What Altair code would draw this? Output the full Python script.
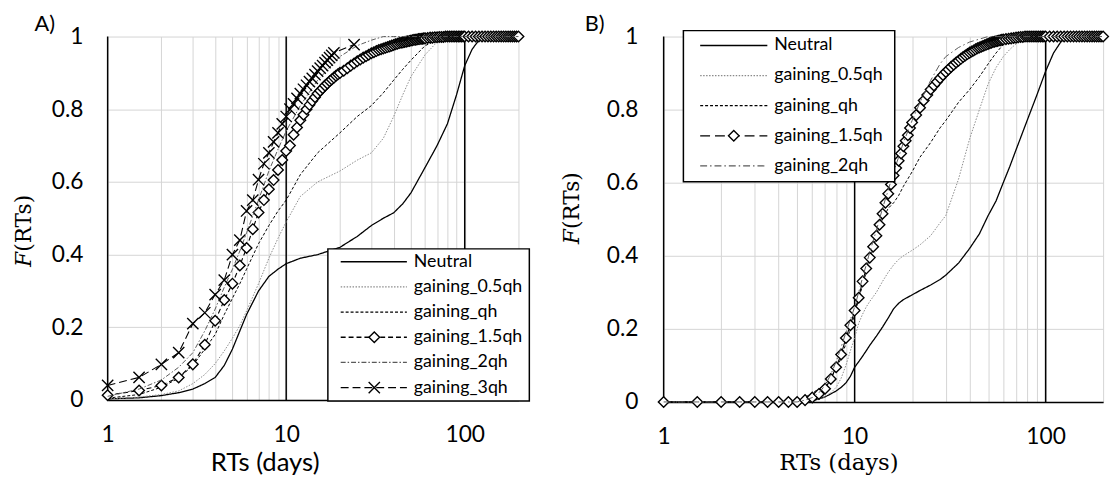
import altair as alt
import pandas as pd

# ---------------- data ----------------
# Panel A : common x grid for the plain lines
A_X = [1, 1.5, 2, 2.5, 3, 3.5, 4, 4.5, 5, 5.5, 6, 7, 8, 9, 10, 12, 15, 20, 25, 30,
       35, 40, 45, 50, 60, 70, 80, 90, 100, 110, 120, 130, 150, 200]
A_NEUTRAL = [0.003, 0.006, 0.012, 0.02, 0.03, 0.045, 0.062, 0.095, 0.14, 0.19, 0.235, 0.30, 0.34, 0.36,
             0.375, 0.39, 0.40, 0.42, 0.45, 0.48, 0.50, 0.515, 0.54, 0.57, 0.64, 0.70, 0.76, 0.84,
             0.92, 0.965, 0.99, 1.0, 1.0, 1.0]
A_HALF = [0.003, 0.008, 0.015, 0.025, 0.045, 0.07, 0.10, 0.135, 0.17, 0.205, 0.245, 0.32, 0.39, 0.445,
          0.49, 0.56, 0.60, 0.63, 0.66, 0.68, 0.72, 0.78, 0.84, 0.89, 0.95, 0.985, 1.0, 1.0,
          1.0, 1.0, 1.0, 1.0, 1.0, 1.0]
A_QH = [0.005, 0.015, 0.035, 0.06, 0.095, 0.14, 0.18, 0.235, 0.28, 0.32, 0.36, 0.43, 0.48, 0.52,
        0.55, 0.62, 0.68, 0.735, 0.78, 0.81, 0.845, 0.88, 0.91, 0.935, 0.975, 0.99, 1.0, 1.0,
        1.0, 1.0, 1.0, 1.0, 1.0, 1.0]
A_2QH = [0.01, 0.03, 0.055, 0.09, 0.13, 0.19, 0.25, 0.31, 0.36, 0.41, 0.46, 0.55, 0.63, 0.69,
         0.74, 0.81, 0.88, 0.945, 0.975, 0.99, 1.0, 1.0, 1.0, 1.0, 1.0, 1.0, 1.0, 1.0,
         1.0, 1.0, 1.0, 1.0, 1.0, 1.0]

# marker series share a 0.5-day grid (coarser where points overlap completely)
M_X = [1, 1.5, 2, 2.5, 3, 3.5, 4, 4.5, 5, 5.5, 6, 6.5, 7, 7.5, 8, 8.5, 9, 9.5, 10, 10.5,
       11, 11.5, 12, 12.5, 13, 13.5, 14, 14.5, 15, 15.5, 16, 16.5, 17, 17.5, 18, 18.5, 19, 19.5, 20,
       21, 22, 23, 24, 25, 26, 27, 28, 29, 30, 31, 32, 33, 34, 35, 36, 37, 38, 39, 40,
       41, 42, 43, 44, 45, 46, 47, 48, 49, 50, 51, 52, 53, 54, 55, 56, 57, 58, 59, 60,
       62, 64, 66, 68, 70, 72, 74, 76, 78, 80, 82, 84, 86, 88, 90, 92, 94, 96, 98, 100,
       105, 110, 115, 120, 125, 130, 135, 140, 145, 150, 155, 160, 165, 170, 175, 180, 185, 190, 195, 200]
A_15QH = [0.013, 0.026, 0.04, 0.062, 0.098, 0.152, 0.218, 0.275, 0.32, 0.37, 0.418, 0.47, 0.516, 0.55,
          0.58, 0.605, 0.633, 0.66, 0.685, 0.70, 0.73, 0.75, 0.77, 0.785, 0.80, 0.812, 0.823, 0.833,
          0.843, 0.851, 0.858, 0.865, 0.871, 0.877, 0.882, 0.887, 0.892, 0.896, 0.90,
          0.906, 0.913, 0.92, 0.926, 0.932, 0.937, 0.942, 0.946, 0.95, 0.954, 0.957, 0.96, 0.963,
          0.965, 0.967, 0.969, 0.971, 0.973, 0.975, 0.977, 0.979, 0.98, 0.982, 0.983, 0.984, 0.985,
          0.986, 0.987, 0.988, 0.989, 0.99, 0.991, 0.991, 0.992, 0.993, 0.993, 0.994, 0.994, 0.995, 0.995,
          0.996, 0.997, 0.997, 0.998, 0.998, 0.999, 0.999, 0.999, 1.0, 1.0, 1.0, 1.0, 1.0, 1.0,
          1.0, 1.0, 1.0, 1.0, 1.0, 1.0,
          1.0, 1.0, 1.0, 1.0, 1.0, 1.0, 1.0, 1.0, 1.0, 1.0, 1.0, 1.0, 1.0, 1.0, 1.0, 1.0, 1.0, 1.0, 1.0, 1.0]
A_3QH_X = [1, 1.5, 2, 2.5, 3, 3.5, 4, 4.5, 5, 5.5, 6, 6.5, 7, 7.5, 8, 8.5, 9, 9.5, 10, 10.5,
           11, 11.5, 12, 12.5, 13, 13.5, 14, 14.5, 15, 15.5, 16, 16.5, 17, 17.5, 18, 18.5, 24]
A_3QH = [0.04, 0.062, 0.098, 0.13, 0.21, 0.24, 0.29, 0.33, 0.40, 0.44, 0.52, 0.55, 0.606, 0.65,
         0.68, 0.71, 0.735, 0.76, 0.78, 0.80, 0.815, 0.83, 0.843, 0.855, 0.866, 0.876, 0.885, 0.895,
         0.905, 0.913, 0.92, 0.928, 0.935, 0.942, 0.948, 0.955, 0.978]

# Panel B
B_X = [1, 1.5, 2, 2.5, 3, 3.5, 4, 4.5, 5, 5.5, 6, 6.5, 7, 7.5, 8, 8.5, 9, 9.5, 10, 10.5, 11, 11.5, 12,
       13, 14, 15, 16, 17, 18, 20, 22, 25, 28, 30, 35, 40, 45, 50, 55, 60, 65, 70,
       80, 90, 100, 110, 120, 130, 150, 200]
B_NEUTRAL = [0, 0, 0, 0, 0, 0, 0, 0, 0, 0.001, 0.004, 0.008, 0.014, 0.022, 0.03, 0.04, 0.052, 0.07,
             0.095, 0.11, 0.125, 0.14, 0.155, 0.18, 0.205, 0.23, 0.255, 0.27, 0.28, 0.293, 0.305,
             0.32, 0.335, 0.347, 0.38, 0.42, 0.46, 0.51, 0.55, 0.60, 0.645, 0.69,
             0.77, 0.84, 0.905, 0.955, 0.985, 1.0, 1.0, 1.0]
B_HALF = [0, 0, 0, 0, 0, 0, 0, 0, 0, 0, 0.003, 0.008, 0.015, 0.025, 0.04, 0.065, 0.10, 0.14,
          0.176, 0.215, 0.24, 0.26, 0.275, 0.30, 0.33, 0.355, 0.375, 0.39, 0.40, 0.415, 0.43,
          0.455, 0.49, 0.51, 0.61, 0.72, 0.80, 0.87, 0.915, 0.945, 0.965, 0.98,
          1.0, 1.0, 1.0, 1.0, 1.0, 1.0, 1.0, 1.0]
B_QH = [0, 0, 0, 0, 0, 0, 0, 0, 0.003, 0.012, 0.025, 0.035, 0.048, 0.065, 0.09, 0.12, 0.16, 0.20,
        0.24, 0.28, 0.32, 0.355, 0.39, 0.45, 0.50, 0.53, 0.545, 0.565, 0.59, 0.63, 0.67,
        0.71, 0.75, 0.77, 0.82, 0.855, 0.89, 0.925, 0.955, 0.978, 0.995, 1.0,
        1.0, 1.0, 1.0, 1.0, 1.0, 1.0, 1.0, 1.0]
B_2QH = [0, 0, 0, 0, 0, 0, 0, 0, 0, 0.005, 0.012, 0.025, 0.045, 0.075, 0.11, 0.15, 0.19, 0.225,
         0.26, 0.30, 0.34, 0.375, 0.41, 0.47, 0.53, 0.58, 0.63, 0.67, 0.71, 0.77, 0.82,
         0.88, 0.925, 0.945, 0.97, 0.985, 0.993, 1.0, 1.0, 1.0, 1.0, 1.0,
         1.0, 1.0, 1.0, 1.0, 1.0, 1.0, 1.0, 1.0]
B_15QH = [0, 0, 0, 0, 0, 0, 0, 0, 0, 0.005, 0.012, 0.022, 0.036, 0.063, 0.095, 0.13, 0.175, 0.21,
          0.25, 0.285, 0.33, 0.365, 0.395, 0.425, 0.455, 0.485, 0.515, 0.545, 0.57, 0.595, 0.62,
          0.64, 0.66, 0.68, 0.70, 0.715, 0.73, 0.75, 0.765,
          0.785, 0.805, 0.825, 0.84, 0.855, 0.866, 0.876, 0.886, 0.895, 0.903, 0.91, 0.917, 0.923,
          0.929, 0.934, 0.939, 0.944, 0.948, 0.952, 0.956, 0.959, 0.962, 0.965, 0.968, 0.97, 0.972,
          0.974, 0.976, 0.978, 0.98, 0.982, 0.983, 0.985, 0.986, 0.987, 0.988, 0.989, 0.99, 0.991, 0.992,
          0.993, 0.994, 0.995, 0.996, 0.997, 0.998, 0.999, 0.999, 1.0, 1.0, 1.0, 1.0, 1.0, 1.0,
          1.0, 1.0, 1.0, 1.0, 1.0, 1.0,
          1.0, 1.0, 1.0, 1.0, 1.0, 1.0, 1.0, 1.0, 1.0, 1.0, 1.0, 1.0, 1.0, 1.0, 1.0, 1.0, 1.0, 1.0, 1.0, 1.0]

GRID_VALUES = [1, 2, 3, 4, 5, 6, 7, 8, 9, 10, 20, 30, 40, 50, 60, 70, 80, 90, 100, 200]
DECADES = [1, 10, 100]
Y_TICKS = [0, 0.2, 0.4, 0.6, 0.8, 1]

SANS = "Lato"
SERIF = "DejaVu Serif"
CROSS = "M-1,-1L1,1M-1,1L1,-1"

STYLE = {
    "Neutral": dict(color="black", width=1.3, dash=[1, 0], marker=None),
    "gaining_0.5qh": dict(color="#8a8a8a", width=1.0, dash=[1.5, 1.5], marker=None),
    "gaining_qh": dict(color="black", width=1.0, dash=[3, 2], marker=None),
    "gaining_1.5qh": dict(color="black", width=1.1, dash=[5, 3], marker="diamond"),
    "gaining_2qh": dict(color="#5a5a5a", width=1.0, dash=[5, 2, 1.5, 2], marker=None),
    "gaining_3qh": dict(color="black", width=1.1, dash=[8, 4], marker="cross"),
}

ONE = pd.DataFrame({"k": [0]})


def marker_mark(kind):
    if kind == "diamond":
        return dict(shape="diamond", size=115, filled=True, fill="white", stroke="black",
                    strokeWidth=1.4, opacity=1)
    return dict(shape=CROSS, size=130, filled=False, stroke="black", strokeWidth=1.4, opacity=1)


def panel(series, width, height, label, label_xy, ytitle_xy, xtitle_font, xtitle_size, xtitle_x,
          ylab_pad, box, rows_y0, rows_dy, line_x, marker_x, text_x, dash_override=None):
    dash_override = dash_override or {}
    xscale = alt.Scale(type="log", domain=[1, 200], nice=False)
    yscale = alt.Scale(domain=[0, 1], nice=False)
    xaxis = alt.Axis(values=GRID_VALUES, format="d",
                     labelExpr="(datum.value == 1 || datum.value == 10 || datum.value == 100) ? datum.label : ''",
                     grid=True, gridColor="#d4d4d4", gridWidth=1, ticks=False, tickSize=0,
                     domain=True, domainColor="black", domainWidth=1.5,
                     labelFont=SANS, labelFontSize=23, labelColor="black", labelPadding=24,
                     labelFlush=False, labelOverlap=False,
                     title="RTs (days)", titleFont=xtitle_font, titleFontSize=xtitle_size,
                     titleFontWeight="normal", titleColor="black", titlePadding=3,
                     titleX=xtitle_x, titleAlign="center")
    yaxis = alt.Axis(values=Y_TICKS, format="~g", grid=True, gridColor="#d4d4d4", gridWidth=1,
                     ticks=False, tickSize=0, domain=False, labelFont=SANS, labelFontSize=23,
                     labelColor="black", labelPadding=ylab_pad, labelFlush=False, title=None)
    X = alt.X("x:Q", scale=xscale, axis=xaxis)
    Y = alt.Y("y:Q", scale=yscale, axis=yaxis)

    layers = [alt.Chart(pd.DataFrame({"x": DECADES})).mark_rule(color="black", strokeWidth=1.5)
              .encode(x=X)]
    for name, xs, ys in series:
        st = STYLE[name]
        dash = dash_override.get(name, st["dash"])
        df = pd.DataFrame({"x": xs, "y": ys})
        layers.append(alt.Chart(df).mark_line(stroke=st["color"], strokeWidth=st["width"],
                                              strokeDash=dash, clip=False).encode(x=X, y=Y))
        if st["marker"]:
            layers.append(alt.Chart(df).mark_point(**marker_mark(st["marker"])).encode(x=X, y=Y))

    # legend
    bx0, bx1, by0, by1 = box
    layers.append(alt.Chart(ONE).mark_rect(fill="white", stroke="black", strokeWidth=1.5)
                  .encode(x=alt.value(bx0), x2=alt.value(bx1), y=alt.value(by0), y2=alt.value(by1)))
    for i, (name, _, _) in enumerate(series):
        st = STYLE[name]
        dash = dash_override.get(name, st["dash"])
        ry = rows_y0 + rows_dy * i
        layers.append(alt.Chart(ONE).mark_rule(stroke=st["color"], strokeWidth=st["width"] + 0.2,
                                               strokeDash=dash)
                      .encode(x=alt.value(line_x[0]), x2=alt.value(line_x[1]), y=alt.value(ry)))
        if st["marker"]:
            layers.append(alt.Chart(ONE).mark_point(**marker_mark(st["marker"]))
                          .encode(x=alt.value(marker_x), y=alt.value(ry)))
        layers.append(alt.Chart(ONE).mark_text(text=name, align="left", baseline="middle",
                                               font=SANS, fontSize=18, color="black")
                      .encode(x=alt.value(text_x), y=alt.value(ry)))

    # panel tag and y title
    layers.append(alt.Chart(ONE).mark_text(text=label, align="left", baseline="middle", font=SANS,
                                           fontSize=22, color="black")
                  .encode(x=alt.value(label_xy[0]), y=alt.value(label_xy[1])))
    layers.append(alt.Chart(ONE).mark_text(text="F", angle=270, align="right", baseline="middle",
                                           font=SERIF, fontStyle="italic", fontSize=22, color="black")
                  .encode(x=alt.value(ytitle_xy[0]), y=alt.value(ytitle_xy[1])))
    layers.append(alt.Chart(ONE).mark_text(text="(RTs)", angle=270, align="left", baseline="middle",
                                           font=SERIF, fontSize=22, color="black")
                  .encode(x=alt.value(ytitle_xy[0]), y=alt.value(ytitle_xy[1])))
    return alt.layer(*layers).properties(width=width, height=height)


series_a = [("Neutral", A_X, A_NEUTRAL), ("gaining_0.5qh", A_X, A_HALF), ("gaining_qh", A_X, A_QH),
            ("gaining_1.5qh", M_X, A_15QH), ("gaining_2qh", A_X, A_2QH),
            ("gaining_3qh", A_3QH_X, A_3QH)]
series_b = [("Neutral", B_X, B_NEUTRAL), ("gaining_0.5qh", B_X, B_HALF), ("gaining_qh", B_X, B_QH),
            ("gaining_1.5qh", M_X, B_15QH), ("gaining_2qh", B_X, B_2QH)]

chart_a = panel(series_a, 416, 368, "A)", (-74, -13), (-85, 218), SANS, 26, 159, 25,
                (223, 427, 215, 369), 228, 25.5, (236, 303), 270, 310)
chart_b = panel(series_b, 445, 370, "B)", (-80, -13), (-93, 195), SERIF, 23, 177, 26,
                (20, 234, -6, 147), 9, 30.5, (37, 105), 71, 112,
                dash_override={"gaining_1.5qh": [10, 5], "gaining_2qh": [7, 3, 1.5, 3]})

chart = (alt.hconcat(chart_a, chart_b, spacing=31)
         .properties(padding={"left": 13, "top": 10, "right": 0, "bottom": 0}, background="white")
         .configure_view(strokeWidth=0))

chart.save("out.html", embed_options={"renderer": "svg", "actions": False})
